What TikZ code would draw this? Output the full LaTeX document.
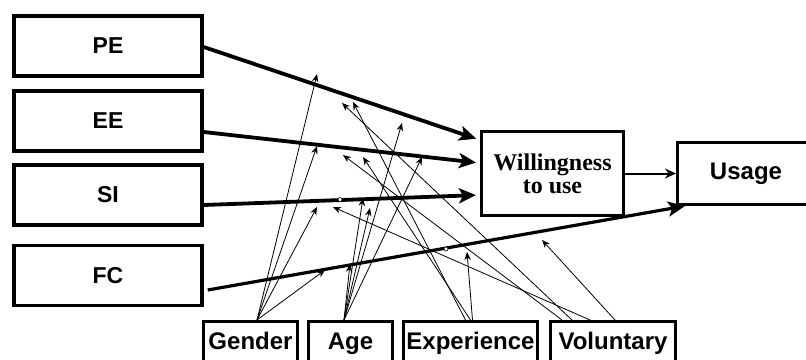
\documentclass[tikz,border=0pt]{standalone}
\usepackage{fontspec}
\setmainfont{Liberation Sans}
\newfontfamily\timesbold{Liberation Serif}
\usetikzlibrary{arrows.meta}

\tikzset{
  factor/.style={draw, line width=3.5pt, minimum width=188pt, minimum height=60pt,
    font=\bfseries\fontsize{23}{23}\selectfont},
  outcome/.style={draw, line width=3pt},
  moderator/.style={draw, line width=3pt, minimum height=44pt, text height=17pt,
    text depth=5pt, inner xsep=2pt, font=\bfseries\fontsize{24}{24}\selectfont},
  mainpath/.style={line width=3.8pt, -{Stealth[length=17pt,width=15pt,inset=4pt]}},
  effect/.style={line width=0.8pt, -{Stealth[length=8pt,width=6.5pt]}},
  dot/.style={circle, draw, fill=white, line width=0.6pt, inner sep=0pt, minimum size=4pt}
}

\begin{document}
\begin{tikzpicture}[x=1pt, y=-1pt]
	\useasboundingbox (0,0) rectangle (806,359);
	\clip (0,0) rectangle (806,359);

	% constructs
	\node[factor] (pe) at (108,46) {PE};
	\node[factor] (ee) at (108,121) {EE};
	\node[factor] (si) at (108,195) {SI};
	\node[factor] (fc) at (108,275.5) {FC};

	\node[outcome, minimum width=142pt, minimum height=84pt, align=center,
	  font=\timesbold\bfseries\fontsize{24}{23}\selectfont] (will) at (552.5,173.5) {Willingness\\to use};
	\node[outcome, minimum width=137pt, minimum height=62pt,
	  font=\bfseries\fontsize{24}{24}\selectfont] (usage) at (746,173.5) {Usage};

	% moderators
	\node[moderator, minimum width=94pt] (gender) at (250.5,343.5) {Gender};
	\node[moderator, minimum width=84pt] (age) at (350.5,343.5) {Age};
	\node[moderator, minimum width=134pt] (exper) at (470.5,343.5) {Experience};
	\node[moderator, minimum width=125pt] (volun) at (613,343.5) {Voluntary};

	% main paths
	\draw[mainpath, shorten >=4pt] ([yshift=-1pt]pe.east) -- ([yshift=33.5pt]will.west);
	\draw[mainpath, shorten >=4pt] ([yshift=-11pt]ee.east) -- ([yshift=10.5pt]will.west);
	\draw[mainpath, shorten >=4pt] ([yshift=-10pt]si.east) -- ([yshift=-21.5pt]will.west);
	\draw[mainpath, line width=3.2pt] ([xshift=4pt, yshift=-14.5pt]fc.east) -- ([xshift=9pt]usage.south west);
	\draw[line width=2pt, -{Stealth[length=11pt,width=10pt]}] (will.east) -- (usage.west);

	\node[dot] (si-dot) at (340,199.5) {};
	\node[dot] (fc-dot) at (446,249) {};

	% moderating effects
	\coordinate (g1) at (317,74);
	\coordinate (g2) at (317,146);
	\coordinate (g3) at (317,207);
	\coordinate (g4) at (325,270);
	\coordinate (a1) at (402,123);
	\coordinate (a2) at (422,157);
	\coordinate (a3) at (363,198);
	\coordinate (a4) at (370,208);
	\coordinate (a5) at (350,264);
	\coordinate (e1) at (353,102);
	\coordinate (e2) at (363,157);
	\coordinate (e3) at (467,252);
	\coordinate (v1) at (342,103);
	\coordinate (v2) at (343,155);
	\coordinate (v3) at (333,207);
	\coordinate (v4) at (542,240);

	\foreach \t in {g1,g2,g3,g4}
		\draw[effect] ([xshift=6.5pt]gender.north) -- (\t);
	\foreach \t in {a1,a2,a3,a4,a5}
		\draw[effect] ([xshift=-6.5pt]age.north) -- (\t);
	\foreach \dx/\t in {-5/e1,0/e2,2/e3}
		\draw[effect] ([xshift=\dx pt]exper.north) -- (\t);
	\foreach \dx/\t in {-41/v1,-51/v2,-23/v3,2/v4}
		\draw[effect] ([xshift=\dx pt]volun.north) -- (\t);
\end{tikzpicture}
\end{document}
